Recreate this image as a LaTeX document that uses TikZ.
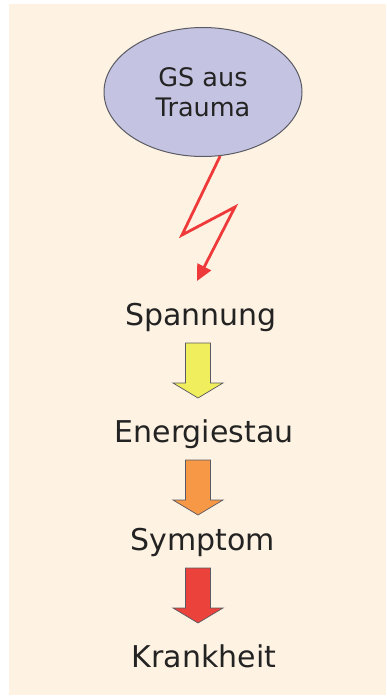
\documentclass[tikz,border=0pt]{standalone}
\usepackage{fontspec}
\setmainfont{DejaVu Sans}
\usepackage{tikz}
\usetikzlibrary{arrows.meta,positioning,shapes.geometric}
\definecolor{gscream}{RGB}{254,243,226}
\definecolor{gslilac}{RGB}{196,196,226}
\definecolor{gsgrey}{RGB}{90,90,100}
\definecolor{gstext}{RGB}{35,35,35}
\definecolor{gsbolt}{RGB}{238,58,58}
\definecolor{gsyellow}{RGB}{240,238,92}
\definecolor{gsorange}{RGB}{246,152,70}
\definecolor{gsred}{RGB}{236,66,60}

\begin{document}
\begin{tikzpicture}[x=1pt, y=-1pt,
      stage/.style={anchor=base, text=gstext, font=\fontsize{30}{36}\selectfont, inner sep=0pt},
      blockarrow/.style={draw=gsgrey, line width=0.7pt, line join=miter}
    ]
      % panel
      \fill[white] (0,0) rectangle (387,697);
      \useasboundingbox (0,0) rectangle (387,697);
      \fill[gscream] (9,4) rectangle (386,695);

      % trigger
      \node[ellipse, draw=gsgrey, line width=1pt, fill=gslilac, minimum width=198pt, minimum height=129pt,
        align=center, text=gstext, font=\fontsize{25.5}{30}\selectfont] (trauma) at (203,92) {GS aus\\Trauma};

      % chain of stages
      \node[stage] (spannung) at (201,325) {Spannung};
      \node[stage] (energie) at (204,442) {Energiestau};
      \node[stage] (symptom) at (203,550) {Symptom};
      \node[stage] (krankheit) at (204,667) {Krankheit};

      \foreach \top/\col in {343/gsyellow, 460/gsorange, 568/gsred}
        \draw[blockarrow, fill=\col] (198,\top) -- ++(12.5,0) -- ++(0,40) -- ++(12.5,0) -- ++(-25,15)
          -- ++(-25,-15) -- ++(12.5,0) -- ++(0,-40) -- cycle;

      % lightning
      \coordinate (blitzA) at (182,235);
      \coordinate (blitzB) at (235,207);
      \coordinate (blitzEnd) at (197,281);
      \draw[gsbolt, line width=2.8pt, line join=miter, -{Triangle[length=16pt, width=15pt]}]
        (trauma.-75) -- (blitzA) -- (blitzB) -- (blitzEnd);
    \end{tikzpicture}
\end{document}
